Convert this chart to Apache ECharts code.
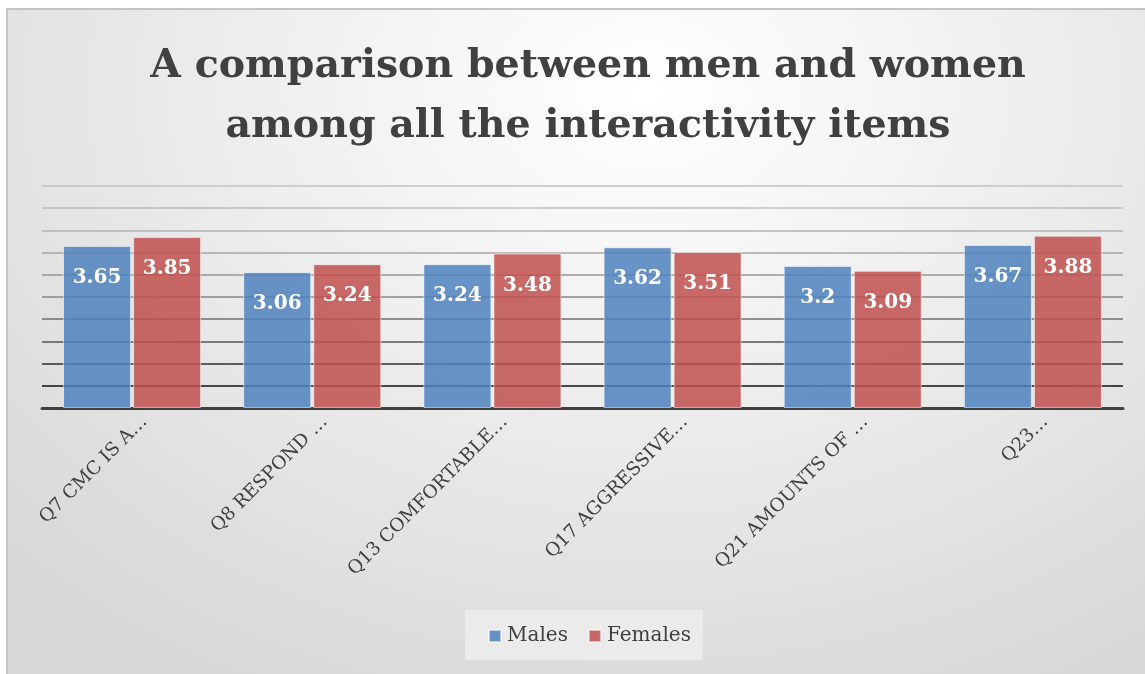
<!DOCTYPE html>
<html>
<head>
<meta charset="utf-8">
<script src="https://cdn.jsdelivr.net/npm/echarts@6/dist/echarts.min.js"></script>
<style>
html,body{margin:0;padding:0;width:1145px;height:674px;overflow:hidden;background:#fff;}
#bg{position:absolute;left:6px;top:8px;width:1160px;height:690px;border:2px solid #c4c4c4;
background:radial-gradient(ellipse 75% 95% at 55% 12%, #ffffff 0%, #f0f0f0 40%, #d8d8d8 100%);}
#chart{position:absolute;left:0;top:0;width:1145px;height:674px;}
</style>
</head>
<body>
<div id="bg"></div>
<div id="chart"></div>
<script>
const titleText = 'A comparison between men and women\namong all the interactivity items';
const categories = ['Q7 CMC IS A…', 'Q8 RESPOND …', 'Q13 COMFORTABLE…', 'Q17 AGGRESSIVE…', 'Q21 AMOUNTS OF …', 'Q23…'];
const males = [3.65, 3.06, 3.24, 3.62, 3.2, 3.67];
const females = [3.85, 3.24, 3.48, 3.51, 3.09, 3.88];
const seriesNames = ['Males', 'Females'];

const FONT = 'DejaVu Serif';
const chart = echarts.init(document.getElementById('chart'), null, {renderer: 'canvas'});
const gridColors = ['#404040', '#111111', '#2e2e2e', '#555555', '#6e6e6e', '#868686', '#969696', '#a6a6a6', '#b2b2b2', '#bcbcbc', '#c2c2c2'];
const labelCfg = {
  show: true, position: 'insideTop', distance: 22,
  color: '#ffffff', fontFamily: FONT, fontWeight: 'bold', fontSize: 20
};
chart.setOption({
  backgroundColor: 'transparent',
  animation: false,
  title: {
    text: titleText, left: 583, textAlign: 'center', top: 32,
    textStyle: {fontFamily: FONT, fontWeight: 'bold', fontSize: 39.5, color: '#404040', lineHeight: 60}
  },
  legend: {
    data: seriesNames, top: 610, left: 465,
    itemWidth: 12, itemHeight: 12, itemGap: 20,
    backgroundColor: 'rgba(236,236,236,0.9)', padding: [16, 12, 14, 23],
    icon: 'rect',
    textStyle: {fontFamily: FONT, fontSize: 20, color: '#404040', padding: [0, 0, 0, 1]}
  },
  grid: {left: 42, right: 22, top: 186, bottom: 266, containLabel: false},
  xAxis: {
    type: 'category', data: categories,
    axisLine: {show: true, lineStyle: {color: '#404040', width: 3}},
    axisTick: {show: false},
    axisLabel: {rotate: 45, margin: 10, interval: 0, fontFamily: FONT, fontSize: 18.5, color: '#404040',
      verticalAlign: 'top', padding: [0, -8, 0, 0]}
  },
  yAxis: {
    type: 'value', min: 0, max: 5, interval: 0.5,
    axisLabel: {show: false}, axisLine: {show: false}, axisTick: {show: false},
    splitLine: {show: true, lineStyle: {color: gridColors, width: 1.5}}
  },
  series: [
    {
      name: seriesNames[0], type: 'bar', data: males,
      barWidth: 68, barGap: '3%', barCategoryGap: '24%',
      itemStyle: {color: 'rgba(79,129,189,0.85)', borderColor: 'rgba(255,255,255,0.55)', borderWidth: 1},
      label: labelCfg
    },
    {
      name: seriesNames[1], type: 'bar', data: females,
      barWidth: 68,
      itemStyle: {color: 'rgba(192,80,77,0.85)', borderColor: 'rgba(255,255,255,0.55)', borderWidth: 1},
      label: labelCfg
    }
  ]
});
</script>
</body>
</html>
